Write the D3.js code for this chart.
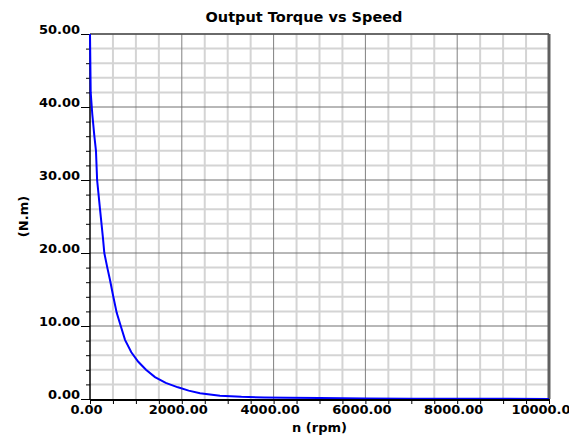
<!DOCTYPE html>
<html>
<head>
<meta charset="utf-8">
<script src="https://cdn.jsdelivr.net/npm/d3@7"></script>
<style>
  body { margin: 0; background: #fff; }
  svg text { font-family: "DejaVu Sans", Verdana, sans-serif; font-weight: bold; fill: #000; }
</style>
</head>
<body>
<svg id="chart" width="569" height="437"></svg>
<script>
// speed (rpm) and output torque (N.m)
const speed = [0, 15, 50, 95, 130, 155, 218, 283, 312, 377, 436, 508, 582, 680, 763, 900,
  1052, 1220, 1416, 1650, 1917, 2150, 2397, 2832, 3300, 3800, 4300, 5000, 6000, 7000, 8000, 9000, 10000];
const torque = [50, 42, 39, 36, 34, 30, 26, 22, 20, 18, 16.3, 14, 11.8, 9.8, 8.1, 6.4,
  5.1, 4.0, 3.0, 2.2, 1.6, 1.15, 0.8, 0.45, 0.3, 0.22, 0.17, 0.12, 0.07, 0.04, 0.03, 0.02, 0.01];

const xMajor = [0, 2000, 4000, 6000, 8000, 10000];
const xMinor = d3.range(0, 10001, 500);
const yMajor = [0, 10, 20, 30, 40, 50];
const yMinor = d3.range(0, 51, 2);

const margin = { top: 34, right: 20, bottom: 38, left: 90 };
const svg = d3.select('#chart');
const width = 569 - margin.left - margin.right;
const height = 437 - margin.top - margin.bottom;

const x = d3.scaleLinear().domain([0, 10000]).range([0, width]);
const y = d3.scaleLinear().domain([0, 50]).range([height, 0]);
const fmt = d3.format('.2f');

const g = svg.append('g')
  .attr('transform', `translate(${margin.left},${margin.top})`);

// minor grid
g.append('g').selectAll('line')
  .data(xMinor.filter(d => !xMajor.includes(d)))
  .join('line')
  .attr('x1', d => x(d)).attr('x2', d => x(d))
  .attr('y1', 0).attr('y2', height)
  .attr('stroke', '#d4d4d4').attr('stroke-width', 2);

g.append('g').selectAll('line')
  .data(yMinor.filter(d => !yMajor.includes(d)))
  .join('line')
  .attr('x1', 0).attr('x2', width)
  .attr('y1', d => y(d)).attr('y2', d => y(d))
  .attr('stroke', '#d4d4d4').attr('stroke-width', 2);

// major grid
g.append('g').selectAll('line')
  .data(xMajor.slice(1, -1))
  .join('line')
  .attr('x1', d => x(d)).attr('x2', d => x(d))
  .attr('y1', 0).attr('y2', height)
  .attr('stroke', '#808080').attr('stroke-width', 1);

g.append('g').selectAll('line')
  .data(yMajor.slice(1))
  .join('line')
  .attr('x1', 0).attr('x2', width)
  .attr('y1', d => y(d)).attr('y2', d => y(d))
  .attr('stroke', '#707070').attr('stroke-width', 1);

// right border
g.append('line')
  .attr('x1', width).attr('x2', width)
  .attr('y1', 0).attr('y2', height)
  .attr('stroke', '#606060').attr('stroke-width', 3);

// y axis: minor ticks then labelled ticks
g.append('g')
  .call(d3.axisLeft(y).tickValues(yMinor).tickSize(4).tickFormat(''))
  .call(a => a.select('.domain').remove())
  .selectAll('line').attr('stroke', '#000');

const gy = g.append('g')
  .call(d3.axisLeft(y).tickValues(yMajor).tickSize(9).tickPadding(1).tickFormat(fmt));
gy.select('.domain').remove();
gy.selectAll('line').attr('stroke', '#000');
gy.selectAll('text')
  .attr('font-size', 13).attr('font-family', null)
  .attr('dy', '-0.05em');

// x axis
g.append('g')
  .attr('transform', `translate(0,${height})`)
  .call(d3.axisBottom(x).tickValues(xMinor).tickSize(5).tickFormat(''))
  .call(a => a.select('.domain').remove())
  .selectAll('line').attr('stroke', '#000');

const gx = g.append('g')
  .attr('transform', `translate(0,${height})`)
  .call(d3.axisBottom(x).tickValues(xMajor).tickSize(0).tickPadding(4).tickFormat(fmt));
gx.select('.domain').remove();
gx.selectAll('text')
  .attr('font-size', 13).attr('font-family', null)
  .attr('dx', -4).attr('dy', '0.85em');

// axis lines
g.append('line')
  .attr('x1', 0).attr('x2', 0).attr('y1', 0).attr('y2', height)
  .attr('stroke', '#000').attr('stroke-width', 1.5);
g.append('line')
  .attr('x1', 0).attr('x2', width).attr('y1', 0).attr('y2', 0)
  .attr('stroke', '#505050').attr('stroke-width', 1.5);

// curve
const line = d3.line()
  .x((d, i) => x(speed[i]))
  .y(d => y(d));

g.append('path')
  .datum(torque)
  .attr('d', line)
  .attr('fill', 'none')
  .attr('stroke', '#0000ff')
  .attr('stroke-width', 2);

g.append('line')
  .attr('x1', 0).attr('x2', width).attr('y1', height + 1).attr('y2', height + 1)
  .attr('stroke', '#000').attr('stroke-width', 2);

// titles
svg.append('text')
  .attr('x', 304)
  .attr('y', 22)
  .attr('text-anchor', 'middle')
  .attr('font-size', 14.5)
  .text('Output Torque vs Speed');

svg.append('text')
  .attr('x', margin.left + width / 2)
  .attr('y', 432)
  .attr('text-anchor', 'middle')
  .attr('font-size', 13)
  .text('n (rpm)');

svg.append('text')
  .attr('transform', `translate(28,${margin.top + height / 2}) rotate(-90)`)
  .attr('text-anchor', 'middle')
  .attr('font-size', 13)
  .text('(N.m)');
</script>
</body>
</html>
